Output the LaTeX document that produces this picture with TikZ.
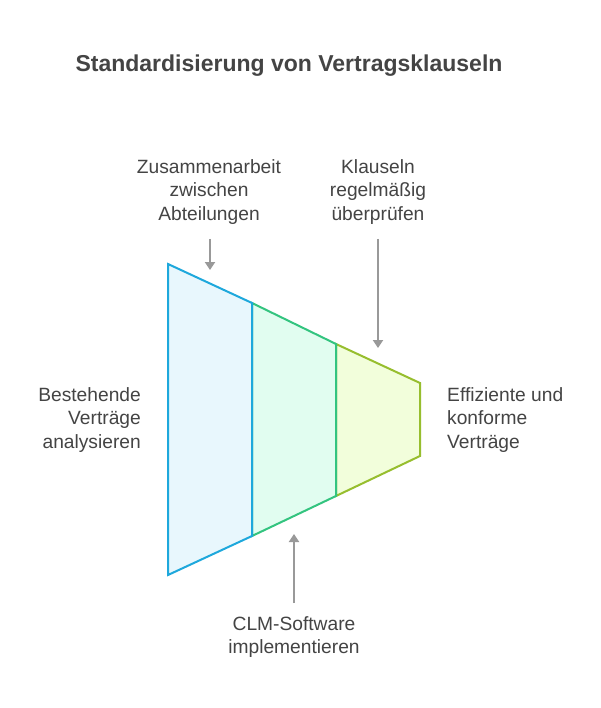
\documentclass[tikz,border=0pt]{standalone}
\usepackage{fontspec}
\setmainfont{Liberation Sans}
\usetikzlibrary{arrows.meta}
\definecolor{cblue}{HTML}{1EA8DC}
\definecolor{fblue}{HTML}{E8F7FD}
\definecolor{cgreen}{HTML}{33C47F}
\definecolor{fgreen}{HTML}{E1FDF0}
\definecolor{cyel}{HTML}{97BE2E}
\definecolor{fyel}{HTML}{F2FEDB}
\definecolor{txt}{HTML}{444444}
\definecolor{arr}{HTML}{999999}
\tikzset{
  lbl/.style={inner sep=0pt, text=txt, font=\fontsize{19.2}{23.5}\selectfont},
  seg/.style={line width=2pt, line join=miter},
  pointer/.style={draw=arr, line width=2pt, -{Triangle[width=10pt,length=8pt]}}
}
\begin{document}
\begin{tikzpicture}[x=1pt,y=-1pt]
\useasboundingbox[fill=white] (0,0) rectangle (600,708);
% title
\node[inner sep=0pt, text=txt, font=\bfseries\fontsize{23}{27}\selectfont] (title) at (289,66) {Standardisierung von Vertragsklauseln};
% funnel sections
\draw[seg, draw=cyel, fill=fyel] (336,344) -- (420,383) -- (420,456) -- (336,496) -- cycle;
\draw[seg, draw=cgreen, fill=fgreen] (252,303) -- (336,344) -- (336,496) -- (252,536) -- cycle;
\draw[seg, draw=cblue, fill=fblue] (168,264) -- (252,303) -- (252,536) -- (168,575) -- cycle;
% labels
\node[lbl, align=center] (collab) at (209,192) {Zusammenarbeit\\zwischen\\Abteilungen};
\node[lbl, align=center] (review) at (378,192) {Klauseln\\regelmäßig\\überprüfen};
\node[lbl, align=right, anchor=east] (analyse) at (141,420) {Bestehende\\Verträge\\analysieren};
\node[lbl, align=left, anchor=west] (result) at (447,420) {Effiziente und\\konforme\\Verträge};
\node[lbl, align=center] (clm) at (294,637) {CLM-Software\\implementieren};
% arrows
\coordinate (a1s) at (210,239);
\coordinate (a1e) at (210,270);
\coordinate (a2s) at (378,239);
\coordinate (a2e) at (378,348);
\coordinate (a3s) at (294,603);
\coordinate (a3e) at (294,534);
\draw[pointer] (a1s) -- (a1e);
\draw[pointer] (a2s) -- (a2e);
\draw[pointer] (a3s) -- (a3e);
\end{tikzpicture}
\end{document}
